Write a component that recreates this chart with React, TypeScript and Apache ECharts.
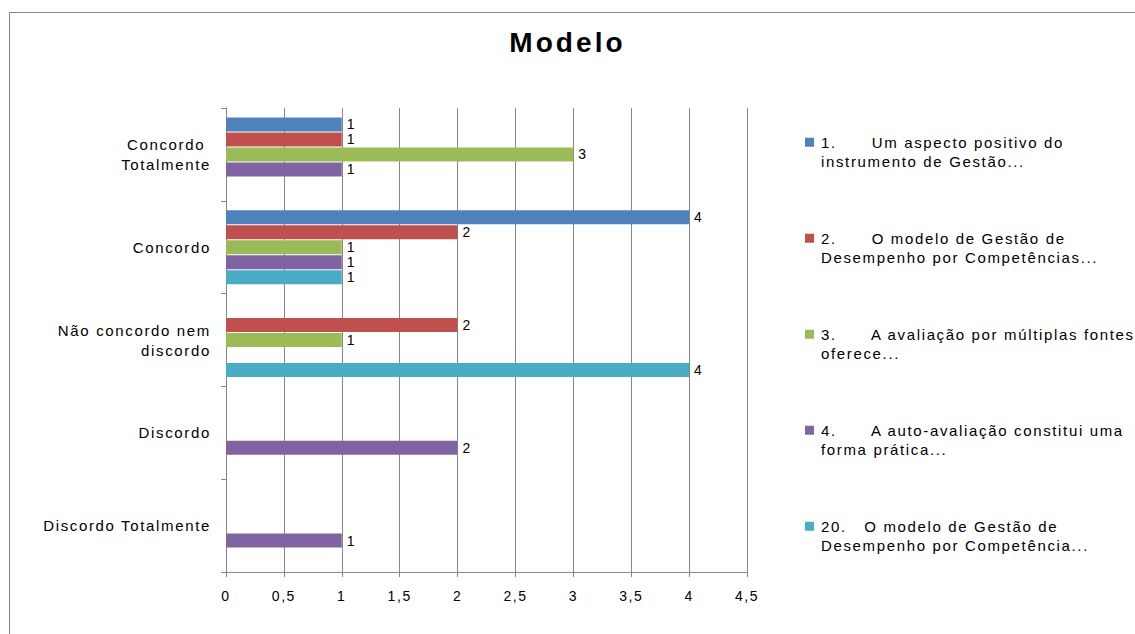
import React, { useEffect, useRef } from "react";
import * as echarts from "echarts";

const titleText = "Modelo";
const categories = [
  "Concordo \nTotalmente",
  "Concordo",
  "Não concordo nem\ndiscordo",
  "Discordo",
  "Discordo Totalmente",
];
const seriesNames = [
  "1.      Um aspecto positivo do\ninstrumento de Gestão...",
  "2.      O modelo de Gestão de\nDesempenho por Competências...",
  "3.      A avaliação por múltiplas fontes\noferece...",
  "4.      A auto-avaliação constitui uma\nforma prática...",
  "20.   O modelo de Gestão de\nDesempenho por Competência...",
];
const values1 = [1, 4, 0, 0, 0];
const values2 = [1, 2, 2, 0, 0];
const values3 = [3, 1, 1, 0, 0];
const values4 = [1, 1, 0, 2, 1];
const values20 = [0, 1, 4, 0, 0];
const seriesValues = [values1, values2, values3, values4, values20];
const seriesColors = ["#4F81BD", "#C0504D", "#9BBB59", "#8064A2", "#4BACC6"];
const xMin = 0;
const xMax = 4.5;
const xStep = 0.5;

const FONT = "'Liberation Sans', Arial, sans-serif";

export default function App() {
  const ref = useRef<HTMLDivElement>(null);
  useEffect(() => {
    if (!ref.current) return;
    const chart = echarts.init(ref.current, undefined, { renderer: "svg" });
    chart.setOption({
      animation: false,
      backgroundColor: "#ffffff",
      textStyle: { fontFamily: FONT, color: "#000" },
      title: {
        text: titleText,
        left: "center",
        top: 28,
        padding: 0,
        textStyle: { fontSize: 28, fontWeight: "bold", color: "#000", fontFamily: FONT },
      },
      graphic: [
        {
          type: "rect",
          shape: { x: 9.5, y: 12.5, width: 1300, height: 800 },
          style: { fill: "none", stroke: "#868686", lineWidth: 1 },
          silent: true,
        },
      ],
      legend: {
        orient: "vertical",
        left: 805,
        top: 113,
        padding: 0,
        itemWidth: 9,
        itemHeight: 9,
        itemGap: 37.5,
        icon: "rect",
        data: seriesNames,
        formatter: (name: string) => "\n" + name,
        textStyle: {
          fontSize: 15,
          lineHeight: 19.5,
          color: "#000",
          fontFamily: FONT,
          padding: [0, 0, 0, 2],
        },
      },
      grid: { left: 226, right: 388, top: 108, bottom: 62, containLabel: false },
      xAxis: {
        type: "value",
        min: xMin,
        max: xMax,
        interval: xStep,
        axisLine: { show: true, lineStyle: { color: "#868686", width: 1 } },
        axisTick: { show: true, length: 5, lineStyle: { color: "#868686" } },
        splitLine: { show: true, lineStyle: { color: "#868686", width: 1 } },
        axisLabel: {
          margin: 17,
          fontSize: 14,
          color: "#000",
          fontFamily: FONT,
          formatter: (v: number) => String(v).replace(".", ","),
        },
      },
      yAxis: {
        type: "category",
        inverse: true,
        data: categories,
        axisLine: { show: true, lineStyle: { color: "#868686", width: 1 } },
        axisTick: { show: true, length: 5, lineStyle: { color: "#868686" } },
        splitLine: { show: false },
        axisLabel: {
          margin: 15,
          fontSize: 15,
          lineHeight: 20,
          color: "#000",
          fontFamily: FONT,
          align: "right",
        },
      },
      series: seriesNames.map((name, i) => ({
        type: "bar",
        name,
        data: seriesValues[i],
        barWidth: 14,
        barGap: "7%",
        itemStyle: { color: seriesColors[i] },
        label: {
          show: true,
          position: "right",
          distance: 5,
          fontSize: 14,
          color: "#000",
          fontFamily: FONT,
          formatter: (p: any) => (p.value === 0 ? "" : String(p.value)),
        },
      })),
    });
    return () => chart.dispose();
  }, []);
  return (
    <>
      <style>{`.chartbox svg text{letter-spacing:0.11em;white-space:pre;}`}</style>
      <div
        ref={ref}
        className="chartbox"
        style={{ position: "fixed", left: 0, top: 0, width: 1135, height: 634, background: "#fff" }}
      />
    </>
  );
}
